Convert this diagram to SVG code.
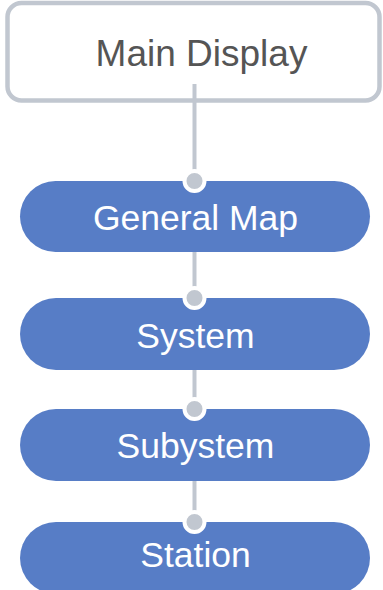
<svg xmlns="http://www.w3.org/2000/svg" width="383" height="590" viewBox="0 0 383 590">
<style>
.pill{fill:#577DC6}
.lbl{font-family:"Liberation Sans",Arial,sans-serif;font-size:35.5px;fill:#FFFFFF;text-anchor:middle}
.main{font-family:"Liberation Sans",Arial,sans-serif;font-size:37px;fill:#555555;text-anchor:middle}
.conn{stroke:#C1C7D0;stroke-width:4;fill:none}
.dot{fill:#C1C7D0;stroke:#FFFFFF;stroke-width:4}
</style>
<rect width="383" height="590" fill="#FFFFFF"/>
<g id="main-display">
<rect x="7.5" y="3" width="372" height="97.5" rx="14" fill="#FFFFFF" stroke="#C1C7D0" stroke-width="4.5"/>
<text class="main" x="201.5" y="66">Main Display</text>
</g>
<g id="general-map">
<rect class="pill" x="20" y="181" width="350" height="71" rx="35.5"/>
<text class="lbl" x="195.5" y="230">General Map</text>
</g>
<g id="system">
<rect class="pill" x="20" y="298" width="350" height="72" rx="36"/>
<text class="lbl" x="195.5" y="348.3">System</text>
</g>
<g id="subsystem">
<rect class="pill" x="20" y="409" width="350" height="72" rx="36"/>
<text class="lbl" x="195.5" y="457.7">Subystem</text>
</g>
<g id="station">
<rect class="pill" x="20" y="522" width="350" height="72" rx="36"/>
<text class="lbl" x="195.5" y="567.3">Station</text>
</g>
<g id="connectors">
<line class="conn" x1="194.5" y1="84" x2="194.5" y2="181"/>
<circle class="dot" cx="194.5" cy="181" r="10"/>
<line class="conn" x1="194.5" y1="252" x2="194.5" y2="298"/>
<circle class="dot" cx="194.5" cy="298" r="10"/>
<line class="conn" x1="194.5" y1="370" x2="194.5" y2="409"/>
<circle class="dot" cx="194.5" cy="409" r="10"/>
<line class="conn" x1="194.5" y1="481" x2="194.5" y2="522"/>
<circle class="dot" cx="194.5" cy="522" r="10"/>
</g>
</svg>
